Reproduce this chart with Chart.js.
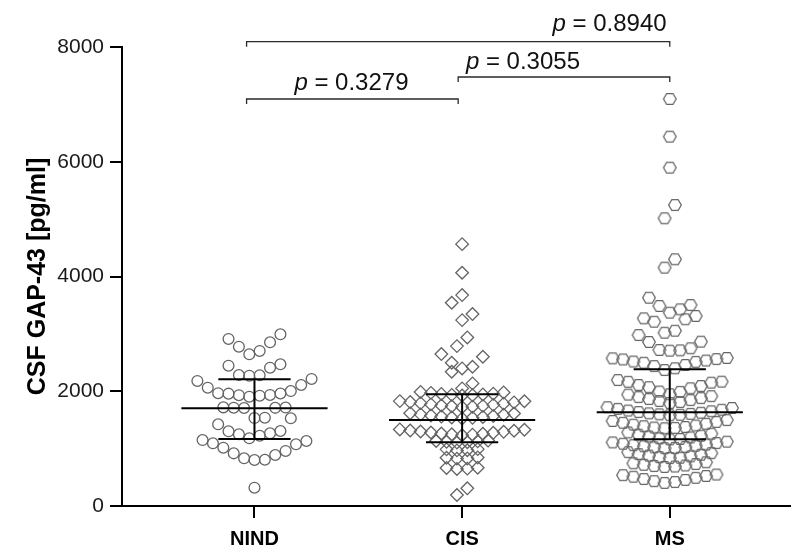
<!DOCTYPE html>
<html>
<head>
<meta charset="utf-8">
<script src="https://cdn.jsdelivr.net/npm/chart.js@4.4.1/dist/chart.umd.min.js"></script>
<style>
  html, body { margin: 0; padding: 0; background: #fff; }
  #wrap { width: 798px; height: 555px; }
</style>
</head>
<body>
<div id="wrap"><canvas id="chart" width="798" height="555"></canvas></div>
<script>
const groups = ["NIND", "CIS", "MS"];
const yTicks = [0, 2000, 4000, 6000, 8000];

// CSF GAP-43 [pg/ml], one value per patient
const nindValues = [
  2993, 2911, 2853, 2776, 2702, 2644,
  2470, 2445, 2410, 2283, 2279, 2271,
  2214, 2179, 2109, 2062, 2004, 1966, 1961, 1958, 1935, 1931, 1922, 1905,
  1713, 1716, 1708, 1711, 1719, 1539, 1529, 1533, 1424,
  1307, 1302, 1267, 1250, 1225, 1180,
  1150, 1133, 1093, 1075, 1016, 959, 918, 889, 831, 802, 806,
  319
];
const cisValues = [
  4564, 4065, 3676, 3542, 3345, 3240, 2938, 2787, 2648, 2601, 2497, 2427, 2398, 2340, 2137, 2050,
  1988, 1972, 1958, 1944, 1931, 1926, 1937, 1953, 1979,
  1828, 1806, 1784, 1763, 1745, 1731, 1722, 1738, 1752, 1771, 1793, 1811, 1826,
  1612, 1591, 1568, 1552, 1537, 1526, 1543, 1559, 1578, 1597, 1618,
  1329, 1311, 1293, 1276, 1258, 1244, 1233, 1249, 1264, 1281, 1299, 1316, 1334,
  1141, 1127, 1112, 1106, 1119, 1133,
  987, 972, 969, 991,
  846, 829, 826, 841,
  668, 651, 646, 663,
  308, 192
];
const msValues = [
  7094, 6437, 5897, 5246, 5015, 4300, 4154, 3630,
  3503, 3486, 3428, 3370, 3312, 3271, 3254, 3212,
  3055, 3020, 2980, 2864, 2859,
  2749, 2719, 2713, 2707,
  2580, 2574, 2561, 2554, 2535, 2518, 2513, 2497, 2458, 2438,
  2400, 2370,
  2196, 2167,
  2165, 2150, 2110, 2091, 2071, 2052, 1995, 1990, 1948, 1942,
  1915, 1898, 1881, 1864, 1846, 1829, 1812, 1795,
  1722, 1709, 1693, 1678, 1664, 1651, 1638, 1626, 1615, 1606, 1598, 1590, 1582,
  1497, 1482, 1466, 1450, 1433, 1418, 1404, 1390, 1377, 1368, 1362, 1355,
  1283, 1261, 1243, 1226, 1212, 1195, 1180, 1168, 1162,
  1122, 1108, 1097, 1085, 1071, 1060, 1052, 1041, 1030, 1022, 1014, 1008,
  938, 921, 905, 893, 878, 866, 851, 842, 835,
  762, 745, 731, 718, 706, 697, 688, 680,
  548, 538, 523, 510, 492, 470, 455, 433, 418, 402
];

// median with interquartile range
const medians = [1703, 1499, 1633];
const lowerQuartiles = [1168, 1110, 1163];
const upperQuartiles = [2208, 1947, 2383];

const pValues = ["0.3279", "0.3055", "0.8940"];
const comparisons = [[0, 1], [1, 2], [0, 2]];

// ---- drawing settings ----
const sans = '"Liberation Sans", Arial, sans-serif';
const markerColor = "#646464";
const rowStep = 0.05;   // horizontal spacing between neighbours in a row (x units)
// value span that shares one row of the swarm; sparser tails get wider rows
const binRules = [
  [{ below: Infinity, span: 350 }],
  [{ below: 2000, span: 120 }, { below: Infinity, span: 320 }],
  [{ below: 1940, span: 150 }, { below: Infinity, span: 300 }]
];

// where the brackets and their labels sit (x in group units, y in pg/ml)
const bracketLayout = [
  { from: 0.962, to: 1.981, level: 7094, textX: 1.467, textLevel: 7373 },
  { from: 1.981, to: 3.0, level: 7477, textX: 2.293, textLevel: 7739 },
  { from: 0.962, to: 3.0, level: 8092, textX: 2.71, textLevel: 8401 }
];

// GraphPad-like column scatter: values close together share a row,
// spread out from the centre, lowest value in the middle
function swarm(values, center, rules) {
  const sorted = values.slice().sort((a, b) => a - b);
  const pts = [];
  let i = 0;
  while (i < sorted.length) {
    const start = sorted[i];
    const span = rules.find(r => start < r.below).span;
    const bin = [];
    while (i < sorted.length && sorted[i] < start + span) bin.push(sorted[i++]);
    const n = bin.length;
    bin.forEach((v, k) => {
      let slot;
      if (n % 2) slot = k === 0 ? 0 : Math.ceil(k / 2) * (k % 2 ? 1 : -1);
      else slot = (Math.floor(k / 2) + 0.5) * (k % 2 ? 1 : -1);
      pts.push({ x: center + slot * rowStep, y: v });
    });
  }
  return pts;
}

function summaryLine(i) {
  const c = i + 1;
  return [
    { x: c - 0.352, y: medians[i] }, { x: c + 0.352, y: medians[i] }, { x: c, y: null },
    { x: c - 0.174, y: upperQuartiles[i] }, { x: c + 0.174, y: upperQuartiles[i] }, { x: c, y: null },
    { x: c, y: upperQuartiles[i] }, { x: c, y: lowerQuartiles[i] }, { x: c, y: null },
    { x: c - 0.174, y: lowerQuartiles[i] }, { x: c + 0.174, y: lowerQuartiles[i] }
  ];
}

function hexagonMarker(r, color, lw) {
  const c = document.createElement("canvas");
  const w = Math.ceil(2 * r + lw * 2), h = Math.ceil(Math.sqrt(3) * r + lw * 2);
  c.width = w;
  c.height = h;
  const g = c.getContext("2d");
  g.strokeStyle = color;
  g.lineWidth = lw;
  g.beginPath();
  for (let k = 0; k < 6; k++) {
    const a = Math.PI / 3 * k;
    const px = w / 2 + r * Math.cos(a), py = h / 2 + r * Math.sin(a);
    if (k) g.lineTo(px, py); else g.moveTo(px, py);
  }
  g.closePath();
  g.stroke();
  return c;
}

const bracketPlugin = {
  id: "brackets",
  afterDatasetsDraw(chart) {
    const { ctx, scales: { x, y } } = chart;
    ctx.save();
    ctx.strokeStyle = "#2a2a2a";
    ctx.lineWidth = 1.3;
    ctx.fillStyle = "#111";
    ctx.textBaseline = "middle";
    comparisons.forEach((pair, i) => {
      const b = bracketLayout[i];
      const x0 = x.getPixelForValue(b.from), x1 = x.getPixelForValue(b.to);
      const yy = y.getPixelForValue(b.level);
      ctx.beginPath();
      ctx.moveTo(x0, yy + 5);
      ctx.lineTo(x0, yy);
      ctx.lineTo(x1, yy);
      ctx.lineTo(x1, yy + 5);
      ctx.stroke();

      const italic = "italic 24px " + sans, normal = "24px " + sans;
      const rest = " = " + pValues[i];
      ctx.font = italic;
      const wp = ctx.measureText("p").width;
      ctx.font = normal;
      const wr = ctx.measureText(rest).width;
      const tx = x.getPixelForValue(b.textX) - (wp + wr) / 2;
      const ty = y.getPixelForValue(b.textLevel);
      ctx.font = italic;
      ctx.fillText("p", tx, ty);
      ctx.font = normal;
      ctx.fillText(rest, tx + wp, ty);
    });
    ctx.restore();
  }
};

const valueSets = [nindValues, cisValues, msValues];
const styles = [
  { pointStyle: "circle", pointRadius: 5.4 },
  { pointStyle: "rectRot", pointRadius: 6.3 },
  { pointStyle: hexagonMarker(6.3, markerColor, 1.3), pointRadius: 6.3 }
];

const datasets = [];
valueSets.forEach((vals, i) => {
  datasets.push({
    label: groups[i],
    data: swarm(vals, i + 1, binRules[i]),
    pointStyle: styles[i].pointStyle,
    pointRadius: styles[i].pointRadius,
    pointBorderColor: markerColor,
    pointBorderWidth: 1.3,
    pointBackgroundColor: "rgba(0,0,0,0)",
    showLine: false,
    clip: false,
    order: 1
  });
});
groups.forEach((g, i) => {
  datasets.push({
    label: g + " median (IQR)",
    data: summaryLine(i),
    showLine: true,
    spanGaps: false,
    borderColor: "#000",
    borderWidth: 2,
    pointRadius: 0,
    clip: false,
    order: 0
  });
});

new Chart(document.getElementById("chart"), {
  type: "scatter",
  data: { datasets },
  options: {
    responsive: false,
    animation: false,
    layout: { padding: { top: 47, right: 0, bottom: 0, left: 0 } },
    plugins: { legend: { display: false }, tooltip: { enabled: false } },
    scales: {
      x: {
        type: "linear",
        min: 0.362,
        max: 3.581,
        afterBuildTicks: s => { s.ticks = groups.map((g, i) => ({ value: i + 1 })); },
        afterFit: s => { s.height = 49; },
        ticks: {
          callback: v => groups[v - 1],
          font: { family: sans, size: 20, weight: "bold" },
          color: "#000",
          padding: 9,
          maxRotation: 0
        },
        grid: { drawOnChartArea: false, drawTicks: true, tickLength: 12, color: "#000", lineWidth: 2 },
        border: { display: true, color: "#000", width: 2 }
      },
      y: {
        min: 0,
        max: 8000,
        afterBuildTicks: s => { s.ticks = yTicks.map(v => ({ value: v })); },
        afterFit: s => { s.width = 122; },
        ticks: {
          callback: v => String(v),
          font: { family: sans, size: 21 },
          color: "#1a1a1a",
          padding: 6
        },
        grid: { drawOnChartArea: false, drawTicks: true, tickLength: 12, color: "#000", lineWidth: 2 },
        border: { display: true, color: "#000", width: 2 },
        title: {
          display: true,
          text: "CSF GAP-43 [pg/ml]",
          font: { family: sans, size: 25, weight: "bold" },
          color: "#000",
          padding: { top: 23, bottom: 0 }
        }
      }
    }
  },
  plugins: [bracketPlugin]
});
</script>
</body>
</html>
